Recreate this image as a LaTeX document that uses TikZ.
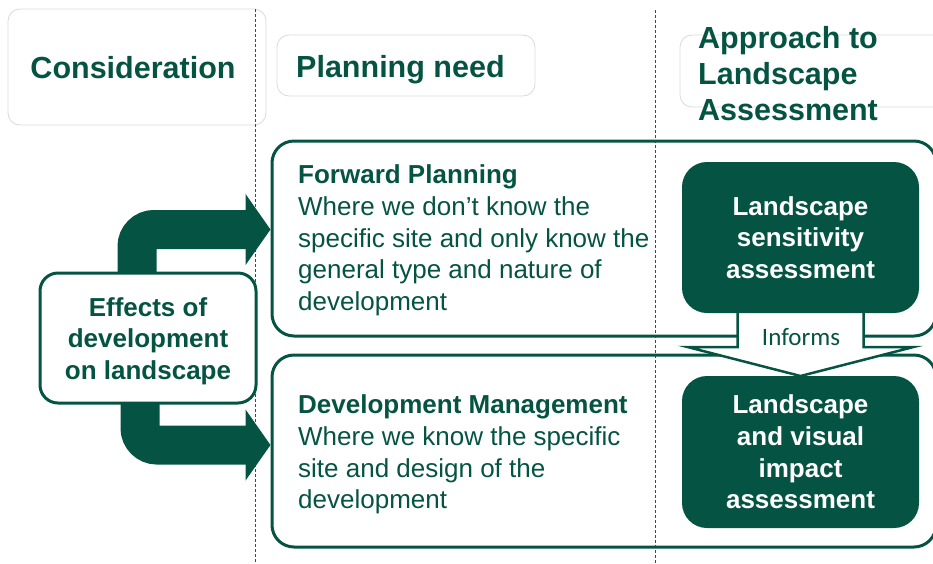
\documentclass[tikz,border=0pt]{standalone}
\usepackage{fontspec}
\setmainfont{Liberation Sans}
\newfontfamily\informsfont{Carlito}
\usetikzlibrary{arrows.meta,calc}
\definecolor{lgreen}{RGB}{5,84,67}
\definecolor{boxgray}{RGB}{217,217,217}
\definecolor{dashgray}{RGB}{70,70,70}

\begin{document}
\begin{tikzpicture}[x=1pt, y=-1pt,
  headbox/.style={draw=boxgray, line width=0.8pt, rounded corners=12pt, inner sep=0pt},
  headtext/.style={text=lgreen, font=\fontsize{30.5}{36}\selectfont\bfseries, align=left, inner sep=0pt},
  planbox/.style={draw=lgreen, line width=3pt, rounded corners=22pt, inner sep=0pt},
  plantext/.style={text=lgreen, font=\fontsize{26}{31.7}\selectfont, align=left, inner sep=0pt},
  effectbox/.style={draw=lgreen, fill=white, line width=3pt, rounded corners=18pt, inner sep=0pt},
  effecttext/.style={text=lgreen, font=\fontsize{26}{31.7}\selectfont\bfseries, align=center, inner sep=0pt},
  assessbox/.style={fill=lgreen, rounded corners=25pt, inner sep=0pt, text=white,
    font=\fontsize{26}{31.7}\selectfont\bfseries, align=center},
  bigarrow/.style={draw=lgreen, line width=39pt, rounded corners=17pt,
    -{Triangle[width=70pt, length=25pt]}},
  informarrow/.style={draw=lgreen, fill=white, line width=2.5pt, miter limit=20},
  dashline/.style={draw=dashgray, line width=0.7pt, dash pattern=on 3pt off 2pt},
]
\useasboundingbox (0,0) rectangle (933,563);

% column headers
\node[headbox, minimum width=258, minimum height=116] (conbox) at (137,67) {};
\node[headbox, minimum width=258, minimum height=61] (needbox) at (406,65.5) {};
\node[headbox, minimum width=270, minimum height=72] (apprbox) at (815,71) {};

% column separators
\draw[dashline] (255,9) -- (255,563);
\draw[dashline] (655,10) -- (655,563);

% planning needs
\node[planbox, minimum width=664, minimum height=195] (fp) at (604,238.5) {};
\node[planbox, minimum width=664, minimum height=192] (dev) at (604,451) {};

% effects feed both needs
\coordinate (effc) at (148,338);
\draw[bigarrow] ([xshift=-11pt]effc) |- ([yshift=9pt]fp.west);
\draw[bigarrow] ([xshift=-8pt]effc) |- ([yshift=6pt]dev.west);
\node[effectbox, minimum width=216, minimum height=130] (effects) at (effc) {};
\node[effecttext] (effectstext) at (148,341) {Effects of\\development\\on landscape};

% assessments
\coordinate (senstop) at (800.5,308);
\coordinate (lviatop) at (800.5,376);
\draw[informarrow] ([xshift=-63pt]senstop) -- ++(0,39) -- ++(-50,0)
  -- (lviatop) -- ++(113,-29) -- ++(-50,0) -- ++(0,-39);
\node[assessbox, minimum width=237, minimum height=151] (sens) at (800.5,237.5)
  {Landscape\\sensitivity\\assessment};
\node[assessbox, minimum width=237, minimum height=152] (lvia) at (800.5,452)
  {Landscape\\and visual\\impact\\assessment};
\node[text=lgreen, font=\informsfont\fontsize{25}{30}\selectfont, inner sep=0pt] (informs)
  at (801,337) {Informs};

% texts
\node[headtext] (context) at (133,68) {Consideration};
\node[headtext, anchor=west] (needtext) at (296,69.5) {Planning need};
\node[headtext, anchor=west] (apprtext) at (698,73.5)
  {Approach to\\Landscape\\Assessment};
\node[plantext, anchor=west] (fptext) at (298,240.5)
  {\textbf{Forward Planning}\\Where we don’t know the\\specific site and only know the\\general type and nature of\\development};
\node[plantext, anchor=west] (devtext) at (298,454.5)
  {\textbf{Development Management}\\Where we know the specific\\site and design of the\\development};

\end{tikzpicture}
\end{document}
